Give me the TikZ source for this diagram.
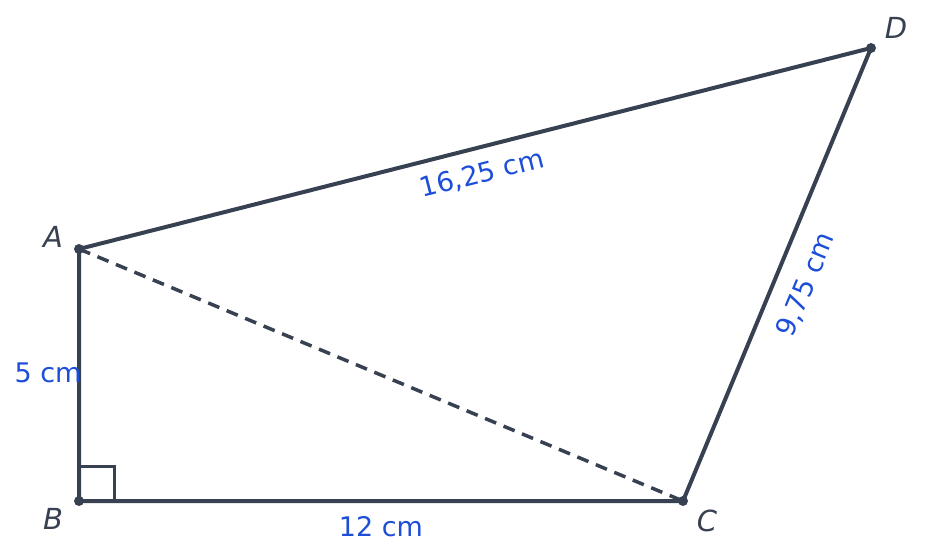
\documentclass[tikz,border=0pt]{standalone}
\usepackage{fontspec}
\setmainfont{DejaVu Sans}
\definecolor{ink}{HTML}{374151}
\definecolor{lbl}{HTML}{1D4ED8}
\tikzset{
  edge/.style={draw=ink, line width=4pt, line cap=round, line join=round},
  dashedge/.style={draw=ink, line width=3.5pt, dash pattern=on 12pt off 8pt},
  pt/.style={circle, fill=ink, inner sep=0pt, minimum size=10pt},
  ptlabel/.style={text=ink, font=\fontsize{29}{34}\selectfont\itshape, inner sep=0pt},
  meas/.style={text=lbl, font=\fontsize{27}{32}\selectfont, inner sep=0pt},
}
\begin{document}
\begin{tikzpicture}[x=1pt,y=-1pt]
\useasboundingbox (0,0) rectangle (925,557);
\coordinate (A) at (79,249);
\coordinate (B) at (79,501);
\coordinate (C) at (683,501);
\coordinate (D) at (871,48);
\draw[dashedge] (A) -- (C);
\draw[edge] (A) -- (B) -- (C) -- (D) -- cycle;
\draw[draw=ink, line width=3pt] (79,466) -- (114,466) -- (114,501);
\node[pt] (pA) at (A) {};
\node[pt] (pB) at (B) {};
\node[pt] (pC) at (C) {};
\node[pt] (pD) at (D) {};
\node[ptlabel] (lA) at (53,237) {A};
\node[ptlabel] (lB) at (53,519) {B};
\node[ptlabel] (lC) at (707,521) {C};
\node[ptlabel] (lD) at (896,28) {D};
\node[meas, rotate=14.24] (mAD) at (482,174) {16,25 cm};
\node[meas, rotate=67.5] (mCD) at (806,285) {9,75 cm};
\node[meas] (mAB) at (48,373) {5 cm};
\node[meas] (mBC) at (381,527) {12 cm};
\end{tikzpicture}
\end{document}
